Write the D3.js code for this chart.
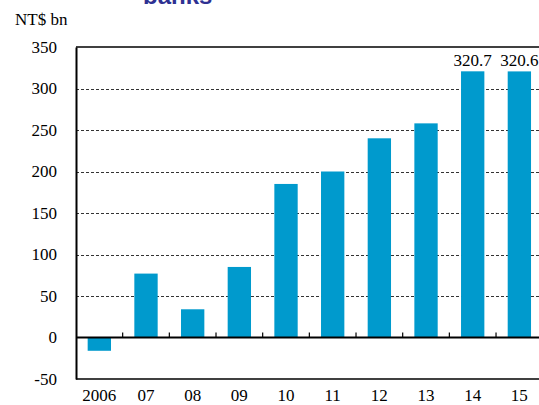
<!DOCTYPE html>
<html><head><meta charset="utf-8">
<script src="https://cdn.jsdelivr.net/npm/d3@7"></script>
<style>html,body{margin:0;padding:0;background:#fff;overflow:hidden}</style>
</head><body>
<svg id="c" width="539" height="405"></svg>
<script>
const categories = ["2006","07","08","09","10","11","12","13","14","15"];
const values = [-16, 77, 34, 85, 185, 200, 240, 258, 320.7, 320.6];
const yTicks = [-50, 0, 50, 100, 150, 200, 250, 300, 350];
const labelled = ["14","15"];

(function(){
const svg = d3.select("#c");
const mLeft = 76, mTop = 47, mBottom = 379, mRight = 76 + 466.7;
const fs = "17px";
const serif = "'Liberation Serif', serif";

const x = d3.scaleBand().domain(categories).range([mLeft, mRight]).paddingInner(0.5).paddingOuter(0.25);
const y = d3.scaleLinear().domain([-50, 350]).range([mBottom, mTop]);

// clipped title
svg.append("text").attr("x", 143).attr("y", 4).style("font-family", "'Liberation Sans', sans-serif")
  .style("font-weight", "bold").style("font-size", "24px").attr("fill", "#2E3192").text("banks");

// unit label
svg.append("text").attr("x", 15).attr("y", 25).style("font-family", serif).style("font-size", fs).attr("fill", "#000").text("NT$ bn");

// gridlines
svg.append("g").selectAll("line").data(yTicks.filter(t => t > 0 && t < 350)).join("line")
  .attr("x1", mLeft).attr("x2", 539).attr("y1", d => Math.round(y(d)) + 0.5).attr("y2", d => Math.round(y(d)) + 0.5)
  .attr("stroke", "#333").attr("stroke-width", 1).attr("stroke-dasharray", "3,2");

// frame top/bottom
[350, -50].forEach(v => {
  svg.append("line").attr("x1", mLeft).attr("x2", 539).attr("y1", y(v)).attr("y2", y(v)).attr("stroke", "#000").attr("stroke-width", 1.5);
});

// bars
svg.append("g").selectAll("rect").data(categories).join("rect")
  .attr("x", d => x(d)).attr("width", x.bandwidth())
  .attr("y", (d, i) => y(Math.max(0, values[i])))
  .attr("height", (d, i) => Math.abs(y(values[i]) - y(0)))
  .attr("fill", "#009ACD");

// value labels
svg.append("g").selectAll("text").data(categories.filter(c => labelled.includes(c))).join("text")
  .attr("x", d => x(d) + x.bandwidth() / 2).attr("y", d => y(values[categories.indexOf(d)]) - 5)
  .attr("text-anchor", "middle").style("font-family", serif).style("font-size", fs).attr("fill", "#000")
  .text(d => values[categories.indexOf(d)].toFixed(1));

// zero line with category ticks
svg.append("line").attr("x1", mLeft).attr("x2", 539).attr("y1", y(0)).attr("y2", y(0)).attr("stroke", "#000").attr("stroke-width", 2);
svg.append("g").selectAll("line").data(categories.slice(1)).join("line")
  .attr("x1", d => x(d) - x.step() * 0.25).attr("x2", d => x(d) - x.step() * 0.25)
  .attr("y1", y(0)).attr("y2", y(0) - 5).attr("stroke", "#000").attr("stroke-width", 1.2);

// x labels
svg.append("g").selectAll("text").data(categories).join("text")
  .attr("x", d => x(d) + x.bandwidth() / 2).attr("y", 401)
  .attr("text-anchor", "middle").style("font-family", serif).style("font-size", fs).attr("fill", "#000").text(d => d);

// y axis
const yAxis = d3.axisLeft(y).tickValues(yTicks).tickSize(0).tickPadding(19).tickFormat(d => String(d));
const gy = svg.append("g").attr("transform", `translate(${mLeft},0)`).call(yAxis);
gy.select(".domain").attr("stroke", "#000").attr("stroke-width", 2);
gy.selectAll("text").style("font-family", serif).style("font-size", fs).attr("fill", "#000");
})();
</script>
</body></html>
